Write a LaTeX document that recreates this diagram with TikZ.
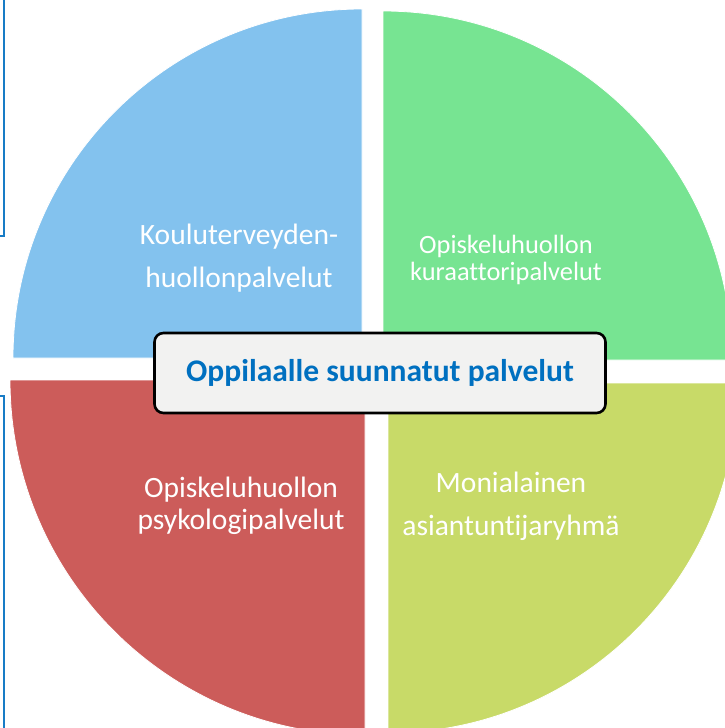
\documentclass[tikz,border=0pt]{standalone}
\usepackage{fontspec}
\setmainfont{Carlito}[Ligatures=CommonOff]
\usepackage{tikz}
\usetikzlibrary{positioning}

\definecolor{kuBlue}{RGB}{131,194,238}
\definecolor{kuGreen}{RGB}{119,228,146}
\definecolor{kuRed}{RGB}{204,92,90}
\definecolor{kuOlive}{RGB}{200,218,104}
\definecolor{hubText}{RGB}{0,112,192}
\definecolor{hubFill}{RGB}{242,242,241}
\definecolor{edgeBlue}{RGB}{24,124,198}

\begin{document}
\begin{tikzpicture}[
      x=1pt, y=-1pt,
      quarter/.style={
         fill=#1,
         draw=white,
         line width=0.8pt
      },
      lbl/.style={
         text=white,
         align=center,
         inner sep=0pt,
         font=\fontsize{29.5}{43}\selectfont
      },
      lbltight/.style={
         lbl,
         font=\fontsize{29.5}{32}\selectfont
      },
      lblsmall/.style={
         lbl,
         font=\fontsize{26.4}{26.5}\selectfont
      },
      hub/.style={
         rectangle,
         rounded corners=9pt,
         line width=2.6pt,
         draw=black,
         fill=hubFill,
         minimum width=451pt,
         minimum height=80pt,
         text=hubText,
         font=\bfseries\fontsize{31.5}{34}\selectfont
      },
      edge/.style={draw=edgeBlue, line width=2.6pt}
    ]
    \useasboundingbox (0,0) rectangle (724,728);
    % frame edges on the left
    \coordinate (e1) at (4,-2);
    \coordinate (e2) at (4,236);
    \coordinate (e3) at (-2,236);
    \coordinate (e4) at (-2,396);
    \coordinate (e5) at (4,396);
    \coordinate (e6) at (4,730);
    \draw[edge] (e1) -- (e2) -- (e3);
    \draw[edge] (e4) -- (e5) -- (e6);
    % quarter centres
    \coordinate (cB) at (362,358);
    \coordinate (cG) at (383,360);
    \coordinate (cR) at (365,380);
    \coordinate (cO) at (388,383);
    \path[quarter=kuBlue]  (cB) -- ++(180:349) arc[start angle=180, end angle=270, radius=349] -- cycle;
    \path[quarter=kuGreen] (cG) -- ++(270:349) arc[start angle=270, end angle=360, radius=349] -- cycle;
    \path[quarter=kuOlive] (cO) -- ++(0:350) arc[start angle=0, end angle=90, radius=350] -- cycle;
    \path[quarter=kuRed]   (cR) -- ++(90:355) arc[start angle=90, end angle=180, radius=355] -- cycle;
    % labels
    \node (tB) [lbl] at (239,258) {Kouluterveyden-\\huollonpalvelut};
    \node (tG) [lblsmall] at (506,260) {Opiskeluhuollon\\kuraattoripalvelut};
    \node (tR) [lbltight] at (241,506) {Opiskeluhuollon\\psykologipalvelut};
    \node (tO) [lbl] at (511,506) {Monialainen\\asiantuntijaryhmä};
    \node (hub) [hub] at (380,373) {Oppilaalle suunnatut palvelut};
\end{tikzpicture}
\end{document}
